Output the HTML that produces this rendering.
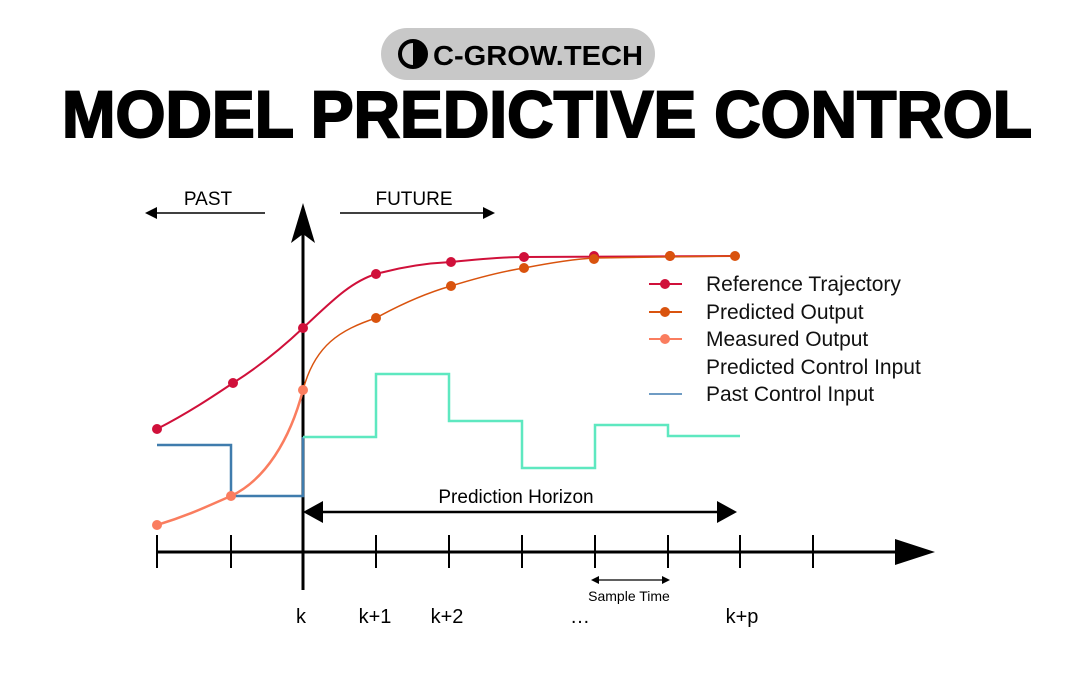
<!DOCTYPE html>
<html><head><meta charset="utf-8"><style>
html,body{margin:0;padding:0;background:#fff;}
svg{display:block;font-family:"Liberation Sans",sans-serif;}
</style></head><body>
<svg width="1080" height="700" viewBox="0 0 1080 700" xmlns="http://www.w3.org/2000/svg">
<rect width="1080" height="700" fill="#fff"/>
<rect x="381" y="28" width="274" height="52" rx="26" fill="#c8c8c8"/>
<circle cx="413" cy="54" r="13" fill="none" stroke="#000" stroke-width="4"/>
<path d="M413 41 A13 13 0 0 1 413 67 Z" fill="#000"/>
<text x="433" y="65" font-size="28" font-weight="bold" textLength="210" lengthAdjust="spacingAndGlyphs">C-GROW.TECH</text>
<text x="62" y="137" font-size="66" font-weight="900" textLength="970" lengthAdjust="spacingAndGlyphs" stroke="#000" stroke-width="2">MODEL PREDICTIVE CONTROL</text>
<text x="208" y="205" font-size="19" text-anchor="middle">PAST</text>
<line x1="265" y1="213" x2="152" y2="213" stroke="#000" stroke-width="1.5"/>
<path d="M145 213 L157 207 L157 219 Z" fill="#000"/>
<text x="414" y="205" font-size="19" text-anchor="middle">FUTURE</text>
<line x1="340" y1="213" x2="488" y2="213" stroke="#000" stroke-width="1.5"/>
<path d="M495 213 L483 207 L483 219 Z" fill="#000"/>
<line x1="303" y1="215" x2="303" y2="590" stroke="#000" stroke-width="3"/>
<path d="M303 203 L315 243 L303 234 L291 243 Z" fill="#000"/>
<line x1="157" y1="552" x2="900" y2="552" stroke="#000" stroke-width="3"/>
<path d="M935 552 L895 539 L895 565 Z" fill="#000"/>
<g stroke="#000" stroke-width="2">
<line x1="157" y1="535" x2="157" y2="568"/><line x1="231" y1="535" x2="231" y2="568"/>
<line x1="376" y1="535" x2="376" y2="568"/><line x1="449" y1="535" x2="449" y2="568"/>
<line x1="522" y1="535" x2="522" y2="568"/><line x1="595" y1="535" x2="595" y2="568"/>
<line x1="668" y1="535" x2="668" y2="568"/><line x1="740" y1="535" x2="740" y2="568"/>
<line x1="813" y1="535" x2="813" y2="568"/>
</g>
<line x1="315" y1="512" x2="725" y2="512" stroke="#000" stroke-width="2.5"/>
<path d="M303 512 L323 501 L323 523 Z" fill="#000"/>
<path d="M737 512 L717 501 L717 523 Z" fill="#000"/>
<text x="516" y="503" font-size="19" text-anchor="middle">Prediction Horizon</text>
<line x1="596" y1="580" x2="665" y2="580" stroke="#000" stroke-width="1.2"/>
<path d="M591 580 L599 576 L599 584 Z M670 580 L662 576 L662 584 Z" fill="#000"/>
<text x="629" y="601" font-size="14" text-anchor="middle">Sample Time</text>
<g font-size="20" text-anchor="middle">
<text x="301" y="623">k</text><text x="375" y="623">k+1</text><text x="447" y="623">k+2</text>
<text x="580" y="623">…</text><text x="742" y="623">k+p</text>
</g>
<path d="M157 445 L231 445 L231 496 L303 496 L303 437" fill="none" stroke="#3f7cad" stroke-width="2.5"/>
<path d="M303 437 L376 437 L376 374 L449 374 L449 421 L522 421 L522 468 L595 468 L595 425 L668 425 L668 436 L740 436" fill="none" stroke="#5ee8c0" stroke-width="2.5"/>
<path d="M157 429 C190 412 215 395 233 383 C260 366 285 345 303 328 C330 303 350 282 376 274 C405 266 430 263 451 262 C480 259 505 257 524 257 L735 256" fill="none" stroke="#d0103a" stroke-width="2"/>
<path d="M157 525 C190 515 210 505 231 496 C265 480 290 440 303 390" fill="none" stroke="#fa7d5f" stroke-width="2.5"/>
<path d="M303 390 C315 345 340 330 376 318 C405 302 430 292 451 286 C480 277 505 271 524 268 C555 262 575 259 594 258 L735 256" fill="none" stroke="#d9530e" stroke-width="1.5"/>
<g fill="#d0103a">
<circle cx="157" cy="429" r="5"/><circle cx="233" cy="383" r="5"/><circle cx="303" cy="328" r="5"/>
<circle cx="376" cy="274" r="5"/><circle cx="451" cy="262" r="5"/><circle cx="524" cy="257" r="5"/>
<circle cx="594" cy="256" r="5"/><circle cx="670" cy="256" r="5"/>
</g>
<g fill="#d9530e">
<circle cx="376" cy="318" r="5"/><circle cx="451" cy="286" r="5"/><circle cx="524" cy="268" r="5"/>
<circle cx="594" cy="259" r="5"/><circle cx="670" cy="256" r="5"/><circle cx="735" cy="256" r="5"/>
</g>
<g fill="#fa7d5f">
<circle cx="157" cy="525" r="5"/><circle cx="231" cy="496" r="5"/><circle cx="303" cy="390" r="5"/>
</g>
<line x1="649" y1="284" x2="682" y2="284" stroke="#d0103a" stroke-width="2"/><circle cx="665" cy="284" r="5" fill="#d0103a"/>
<line x1="649" y1="312" x2="682" y2="312" stroke="#d9530e" stroke-width="2"/><circle cx="665" cy="312" r="5" fill="#d9530e"/>
<line x1="649" y1="339" x2="682" y2="339" stroke="#fa7d5f" stroke-width="2"/><circle cx="665" cy="339" r="5" fill="#fa7d5f"/>
<line x1="649" y1="394" x2="682" y2="394" stroke="#6f9cc4" stroke-width="2"/>
<g font-size="21" fill="#111">
<text x="706" y="291">Reference Trajectory</text>
<text x="706" y="319">Predicted Output</text>
<text x="706" y="346">Measured Output</text>
<text x="706" y="374">Predicted Control Input</text>
<text x="706" y="401">Past Control Input</text>
</g>
</svg>
</body></html>
